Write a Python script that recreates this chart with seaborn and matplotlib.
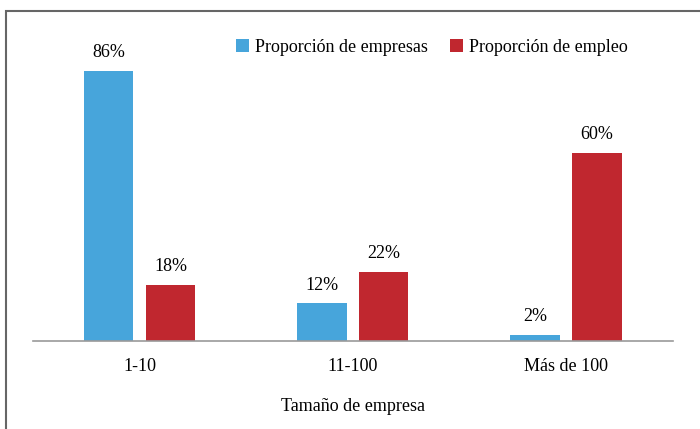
import matplotlib
matplotlib.use("Agg")
import matplotlib.pyplot as plt
import seaborn as sns
import pandas as pd
from matplotlib.patches import Rectangle

# datos
categorias = ["1-10", "11-100", "Más de 100"]
series = ["Proporción de empresas", "Proporción de empleo"]
prop_empresas = [86, 12, 2]
prop_empleo = [18, 22, 60]

df = pd.DataFrame({
    "tam": categorias * 2,
    "serie": [series[0]] * 3 + [series[1]] * 3,
    "valor": prop_empresas + prop_empleo,
})

sns.set_style("white")
plt.rcParams["font.family"] = ["Liberation Serif", "DejaVu Serif"]

fig = plt.figure(figsize=(7, 4.29), dpi=100)
ax = fig.add_axes([0.047, 0.205, 0.914, 0.732])

sns.barplot(data=df, x="tam", y="valor", hue="serie", order=categorias,
            hue_order=series, palette=["#47A5DB", "#C0272F"],
            width=0.58, gap=0.2, saturation=1, linewidth=0, ax=ax)

for cont in ax.containers:
    ax.bar_label(cont, fmt="%d%%", padding=7, fontsize=13, color="black")

ax.set_ylim(0, 100)
ax.set_yticks([])
ax.set_ylabel("")
ax.set_xlabel("Tamaño de empresa", fontsize=13, labelpad=17, color="black")
ax.tick_params(axis="x", length=0, pad=12, labelsize=13, labelcolor="black")
for s in ["top", "left", "right"]:
    ax.spines[s].set_visible(False)
ax.spines["bottom"].set_color("#9A9A9A")
ax.spines["bottom"].set_linewidth(1.2)

leg = ax.legend(loc="center", bbox_to_anchor=(0.617, 0.89), bbox_transform=fig.transFigure,
                ncol=2, frameon=False, fontsize=13, handlelength=0.72, handleheight=0.72,
                handletextpad=0.35, columnspacing=1.2)
for t in leg.get_texts():
    t.set_color("black")
for h in leg.legend_handles:
    h.set_linewidth(0)

# marco
fig.patches.append(Rectangle((6 / 700, -0.1), 1.0, (429 - 11) / 429 + 0.1,
                             transform=fig.transFigure, fill=False,
                             edgecolor="#666666", linewidth=1.5))

fig.savefig("out.png", dpi=100)
